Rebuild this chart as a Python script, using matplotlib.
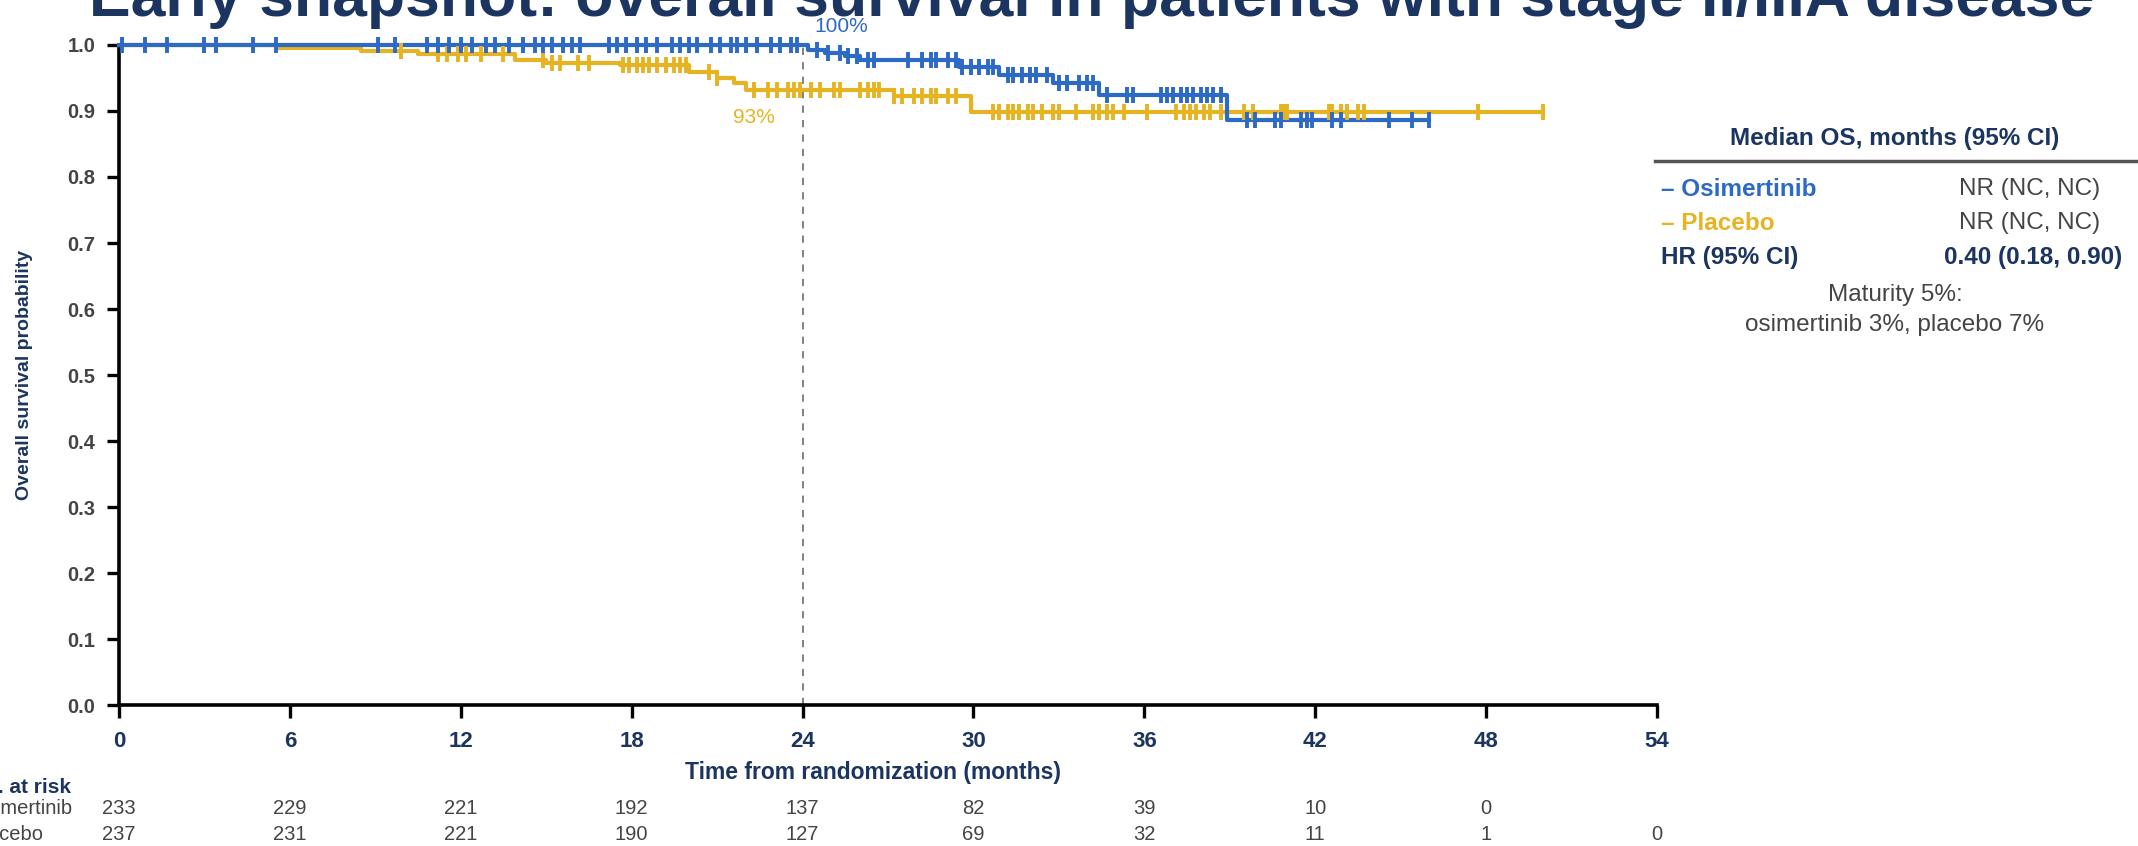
import numpy as np
import matplotlib.pyplot as plt
from matplotlib import font_manager as fm

W, H = 2138, 846

# Kaplan-Meier steps (time in months, survival after the step)
osi_t = [0, 24.2, 24.8, 25.5, 26.0, 29.5, 30.9, 32.8, 34.4, 38.9, 46.0]
osi_s = [1.0, 0.993, 0.988, 0.983, 0.978, 0.967, 0.955, 0.942, 0.924, 0.886, 0.886]
plc_t = [0, 5.5, 8.5, 10.5, 13.9, 15.0, 17.6, 20.0, 21.0, 21.6, 22.0, 27.2, 29.9, 50.0]
plc_s = [1.0, 0.996, 0.991, 0.987, 0.978, 0.972, 0.970, 0.959, 0.950, 0.942, 0.932, 0.922, 0.899, 0.899]

# censoring times
osi_cens = [0.1, 0.9, 1.7, 3.0, 3.4, 4.7, 5.5, 9.1, 9.7, 10.8, 11.2, 11.6, 12.0, 12.4, 12.9,
            13.2, 13.7, 14.2, 14.6, 14.9, 15.2, 15.6, 15.9, 16.2, 17.2, 17.5, 17.8, 18.2,
            18.5, 18.9, 19.4, 19.7, 20.0, 20.3, 20.8, 21.1, 21.5, 21.7, 22.0, 22.4, 22.9,
            23.2, 23.6, 23.8, 24.5, 24.9, 25.3, 25.6, 25.9, 26.3, 26.5, 27.7, 28.2, 28.5,
            28.7, 29.1, 29.4, 29.6, 29.9, 30.2, 30.5, 30.7, 31.2, 31.4, 31.7, 32.0, 32.2,
            32.6, 33.0, 33.3, 33.7, 34.0, 34.2, 34.7, 35.4, 35.6, 36.6, 36.8, 37.0, 37.3,
            37.5, 37.7, 38.0, 38.2, 38.4, 38.7, 39.6, 39.9, 40.6, 40.8, 41.5, 41.7, 41.9,
            42.6, 42.9, 44.6, 45.4, 46.0]
plc_cens = [0.9, 3.0, 3.4, 4.7, 9.9, 11.2, 11.5, 11.9, 12.2, 12.7, 13.5, 14.9, 15.2, 15.5,
            16.1, 16.5, 17.7, 17.9, 18.2, 18.4, 18.6, 18.9, 19.2, 19.5, 19.7, 19.9, 20.7,
            21.0, 22.3, 22.8, 23.1, 23.5, 23.7, 23.9, 24.3, 24.6, 25.1, 25.3, 26.0, 26.3,
            26.5, 26.7, 27.2, 27.5, 27.9, 28.2, 28.5, 28.7, 29.1, 29.4, 30.7, 30.9, 31.2,
            31.4, 31.6, 31.9, 32.1, 32.4, 32.8, 33.0, 33.6, 34.2, 34.4, 34.7, 34.9, 35.3,
            36.1, 37.1, 37.4, 37.6, 37.8, 38.1, 38.3, 38.7, 39.5, 39.8, 40.8, 40.9, 41.0,
            42.5, 42.6, 42.9, 43.1, 43.5, 43.7, 47.7, 50.0]

x_ticks = [0, 6, 12, 18, 24, 30, 36, 42, 48, 54]
y_ticks = [0.0, 0.1, 0.2, 0.3, 0.4, 0.5, 0.6, 0.7, 0.8, 0.9, 1.0]
risk_osi = [233, 229, 221, 192, 137, 82, 39, 10, 0]
risk_plc = [237, 231, 221, 190, 127, 69, 32, 11, 1, 0]

BLUE = "#2C6AC6"
GOLD = "#E6B422"
NAVY = "#1B3560"
GREY = "#444444"

names = {f.name for f in fm.fontManager.ttflist}
BASE = "Liberation Sans" if "Liberation Sans" in names else "DejaVu Sans"
plt.rcParams["font.family"] = [BASE, "DejaVu Sans"]


def fx(px):
    return px / W


def fy(py):
    return 1 - py / H


def surv_at(ts, ss, t):
    i = np.searchsorted(ts, t, side="right") - 1
    return ss[max(i, 0)]


fig = plt.figure(figsize=(W / 100, H / 100), dpi=100)
ax = fig.add_axes([fx(119), fy(705), fx(1657) - fx(119), fy(45) - fy(705)])

for ts, ss, cens, col in [(plc_t, plc_s, plc_cens, GOLD), (osi_t, osi_s, osi_cens, BLUE)]:
    ax.step(ts, ss, where="post", color=col, lw=3.0, clip_on=False, zorder=3)
    cy = [surv_at(ts, ss, c) for c in cens]
    ax.plot(cens, cy, ls="none", marker="|", ms=11, mew=2.8, color=col, clip_on=False, zorder=4)

ax.plot([24, 24], [0, 1.005], ls=(0, (4, 4)), color="#777777", lw=1.3, zorder=2, clip_on=False)
ax.text(25.35, 1.028, "100%", color=BLUE, fontsize=15, ha="center", va="center", clip_on=False)
ax.text(22.3, 0.890, "93%", color=GOLD, fontsize=15, ha="center", va="center", clip_on=False)

ax.set_xlim(0, 54)
ax.set_ylim(0, 1.0)
ax.set_xticks(x_ticks)
ax.set_yticks(y_ticks)
ax.set_xticklabels([str(t) for t in x_ticks], fontsize=16, fontweight="bold", color=NAVY)
ax.set_yticklabels([f"{v:.1f}" for v in y_ticks], fontsize=14.5, fontweight="bold", color=GREY)
for s in ["top", "right"]:
    ax.spines[s].set_visible(False)
for s in ["left", "bottom"]:
    ax.spines[s].set_linewidth(2.6)
ax.spines["left"].set_bounds(0, 1)
ax.spines["bottom"].set_bounds(0, 54)
ax.tick_params(length=9, width=2.4, color="black", pad=8)
ax.tick_params(axis="x", pad=10)

fig.text(fx(873), fy(772), "Time from randomization (months)", fontsize=16.5, fontweight="bold",
         color=NAVY, ha="center", va="center")
fig.text(fx(25), fy(375), "Overall survival probability", fontsize=14, fontweight="bold",
         color=NAVY, ha="center", va="center", rotation=90)

# title (cut by the top edge in the reference)
fig.text(fx(89), fy(16), "Early snapshot: overall survival in patients with stage II/IIIA disease",
         fontsize=45, fontweight="bold", color=NAVY, ha="left", va="baseline")

# number at risk table
fig.text(fx(-30), fy(787), "No. at risk", fontsize=15, fontweight="bold", color=NAVY,
         ha="left", va="center")
fig.text(fx(-30), fy(808), "Osimertinib", fontsize=14.5, color=GREY, ha="left", va="center")
fig.text(fx(-30), fy(834), "Placebo", fontsize=14.5, color=GREY, ha="left", va="center")
for row, py in [(risk_osi, 808), (risk_plc, 834)]:
    for t, n in zip(x_ticks, row):
        px = ax.transData.transform((t, 0))[0]
        fig.text(px / W, fy(py), str(n), fontsize=14.5, color=GREY, ha="center", va="center")

# right-hand summary table
fig.text(fx(1895), fy(138), "Median OS, months (95% CI)", fontsize=17.5, fontweight="bold",
         color=NAVY, ha="center", va="center")
fig.add_artist(plt.Line2D([fx(1655), 1.0], [fy(161), fy(161)], color="#555555", lw=2.5))
fig.text(fx(1661), fy(189), "– Osimertinib", fontsize=17.5, fontweight="bold", color=BLUE,
         ha="left", va="center")
fig.text(fx(1661), fy(223), "– Placebo", fontsize=17.5, fontweight="bold", color=GOLD,
         ha="left", va="center")
fig.text(fx(1661), fy(257), "HR (95% CI)", fontsize=17.5, fontweight="bold", color=NAVY,
         ha="left", va="center")
fig.text(fx(2100), fy(189), "NR (NC, NC)", fontsize=17.5, color=GREY, ha="right", va="center")
fig.text(fx(2100), fy(223), "NR (NC, NC)", fontsize=17.5, color=GREY, ha="right", va="center")
fig.text(fx(2122), fy(257), "0.40 (0.18, 0.90)", fontsize=17.5, fontweight="bold", color=NAVY,
         ha="right", va="center")
fig.text(fx(1895), fy(310), "Maturity 5%:\nosimertinib 3%, placebo 7%", fontsize=17.5,
         color=GREY, ha="center", va="center", linespacing=1.45)

fig.savefig("out.png", dpi=100)
